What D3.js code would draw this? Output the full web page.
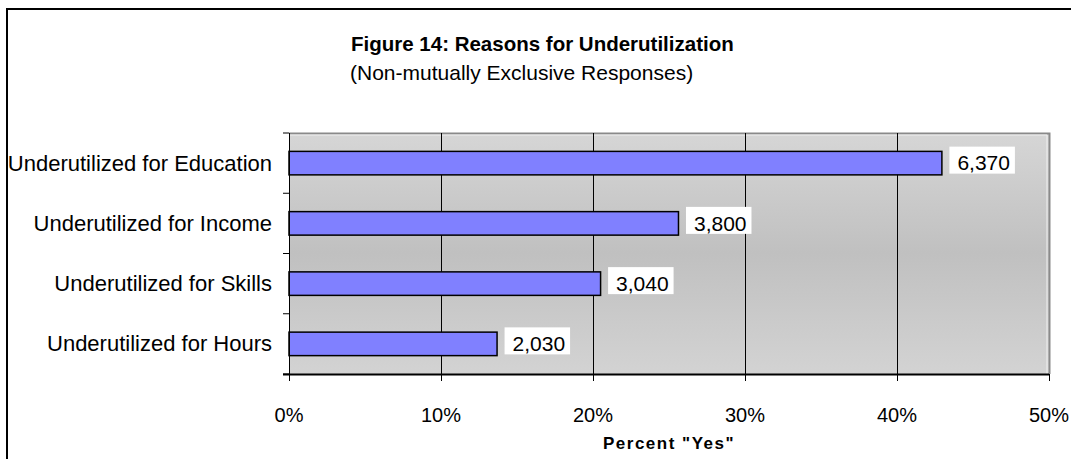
<!DOCTYPE html>
<html>
<head>
<meta charset="utf-8">
<script src="https://cdn.jsdelivr.net/npm/d3@7"></script>
<style>
  html, body { margin: 0; padding: 0; background: #ffffff; }
  svg { display: block; font-family: "Liberation Sans", Arial, sans-serif; }
</style>
</head>
<body>
<svg id="chart" width="1071" height="459"></svg>
<script>
// Reasons for underutilization (non-mutually exclusive responses)
const categories = [
  "Underutilized for Education",
  "Underutilized for Income",
  "Underutilized for Skills",
  "Underutilized for Hours"
];
const counts = [6370, 3800, 3040, 2030];
const respondents = 14830;          // base for the percent "yes" scale
const xTicks = [0, 0.1, 0.2, 0.3, 0.4, 0.5];

const svg = d3.select("#chart");
const W = 1071, H = 459;
const plot = { left: 289, right: 1049, top: 133, bottom: 374 };

// outer frame
svg.append("rect")
  .attr("x", 7).attr("y", 9)
  .attr("width", W + 10).attr("height", H + 10)
  .attr("fill", "#ffffff").attr("stroke", "#000000").attr("stroke-width", 2);

// titles
svg.append("text")
  .attr("x", 351).attr("y", 51)
  .attr("font-size", 20.5).attr("font-weight", "bold")
  .text("Figure 14: Reasons for Underutilization");
svg.append("text")
  .attr("x", 350).attr("y", 80)
  .attr("font-size", 21)
  .text("(Non-mutually Exclusive Responses)");

const x = d3.scaleLinear().domain([0, 0.5]).range([plot.left, plot.right]);
const y = d3.scaleBand().domain(categories).range([plot.top, plot.bottom]).paddingInner(0.61).paddingOuter(0.305);

// plot background
const defs = svg.append("defs");
const grad = defs.append("linearGradient").attr("id", "plotBg")
  .attr("x1", 0).attr("y1", 0).attr("x2", 0).attr("y2", 1);
grad.append("stop").attr("offset", "0%").attr("stop-color", "#d6d6d6");
grad.append("stop").attr("offset", "50%").attr("stop-color", "#c0c0c0");
grad.append("stop").attr("offset", "100%").attr("stop-color", "#d3d3d3");

svg.append("rect")
  .attr("x", plot.left).attr("y", plot.top)
  .attr("width", plot.right - plot.left).attr("height", plot.bottom - plot.top)
  .attr("fill", "url(#plotBg)");

// plot border (top and right)
svg.append("path")
  .attr("d", `M${plot.left},${plot.top + 0.5} H${plot.right + 0.5} V${plot.bottom}`)
  .attr("fill", "none").attr("stroke", "#8a8a8a").attr("stroke-width", 2);
svg.append("path")
  .attr("d", `M${plot.left},${plot.top + 2} H${plot.right - 2} V${plot.bottom}`)
  .attr("fill", "none").attr("stroke", "#f0f0f0").attr("stroke-width", 1);

// vertical gridlines
svg.append("g").selectAll("line")
  .data(xTicks.slice(1, -1))
  .join("line")
  .attr("x1", d => Math.round(x(d)) + 0.5).attr("x2", d => Math.round(x(d)) + 0.5)
  .attr("y1", plot.top).attr("y2", plot.bottom)
  .attr("stroke", "#000000").attr("stroke-width", 1);

// bars
const pct = counts.map(c => c / respondents);
svg.append("g").selectAll("rect")
  .data(categories)
  .join("rect")
  .attr("x", plot.left)
  .attr("y", d => y(d))
  .attr("width", (d, i) => x(pct[i]) - plot.left)
  .attr("height", y.bandwidth())
  .attr("fill", "#8080ff")
  .attr("stroke", "#000000").attr("stroke-width", 1.5);

// value labels in white boxes
const fmt = d3.format(",");
const labels = svg.append("g").selectAll("g")
  .data(categories)
  .join("g")
  .attr("transform", (d, i) => `translate(${x(pct[i]) + 7.5},${y(d) + y.bandwidth() / 2})`);
labels.append("rect")
  .attr("x", 0).attr("y", -16.5)
  .attr("width", 65.5).attr("height", 27)
  .attr("fill", "#ffffff");
labels.append("text")
  .attr("x", 8).attr("y", 7.2)
  .attr("font-size", 21)
  .text((d, i) => fmt(counts[i]));

// y axis
const yAxis = svg.append("g");
yAxis.append("line")
  .attr("x1", plot.left + 0.5).attr("x2", plot.left + 0.5)
  .attr("y1", plot.top).attr("y2", plot.bottom)
  .attr("stroke", "#000000").attr("stroke-width", 1);
yAxis.selectAll("line.tick")
  .data(d3.range(categories.length + 1))
  .join("line").attr("class", "tick")
  .attr("x1", plot.left - 6).attr("x2", plot.left)
  .attr("y1", i => plot.top + i * (plot.bottom - plot.top) / categories.length)
  .attr("y2", i => plot.top + i * (plot.bottom - plot.top) / categories.length)
  .attr("stroke", "#000000").attr("stroke-width", 1);
yAxis.selectAll("text")
  .data(categories)
  .join("text")
  .attr("x", 272)
  .attr("y", d => y(d) + y.bandwidth() / 2 + 7.5)
  .attr("text-anchor", "end")
  .attr("font-size", 22)
  .text(d => d);

// x axis
const xAxis = svg.append("g");
xAxis.append("line")
  .attr("x1", plot.left - 6).attr("x2", plot.right)
  .attr("y1", plot.bottom + 0.5).attr("y2", plot.bottom + 0.5)
  .attr("stroke", "#000000").attr("stroke-width", 2);
xAxis.selectAll("line.tick")
  .data(xTicks)
  .join("line").attr("class", "tick")
  .attr("x1", d => Math.round(x(d)) + 0.5).attr("x2", d => Math.round(x(d)) + 0.5)
  .attr("y1", plot.bottom).attr("y2", plot.bottom + 7)
  .attr("stroke", "#000000").attr("stroke-width", 1);
xAxis.selectAll("text")
  .data(xTicks)
  .join("text")
  .attr("x", d => x(d))
  .attr("y", 422)
  .attr("text-anchor", "middle")
  .attr("font-size", 20)
  .text(d3.format(".0%"));

svg.append("text")
  .attr("x", 669).attr("y", 449)
  .attr("text-anchor", "middle")
  .attr("font-size", 17).attr("font-weight", "bold")
  .attr("letter-spacing", 1.5)
  .text("Percent \"Yes\"");
</script>
</body>
</html>
